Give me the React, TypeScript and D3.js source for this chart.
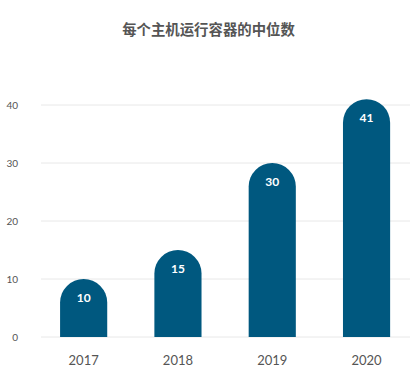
import React, { useEffect, useRef } from 'react';
import * as d3 from 'd3';

const years = ['2017', '2018', '2019', '2020'];
const medians = [10, 15, 30, 41];
const yTicks = [0, 10, 20, 30, 40];
const title = '每个主机运行容器的中位数';

const width = 412;
const height = 386;

export default function App() {
  const svgRef = useRef<SVGSVGElement>(null);

  useEffect(() => {
    if (!svgRef.current) return;
    const svg = d3.select(svgRef.current);
    svg.selectAll('*').remove();

    const x = d3.scaleBand<string>()
      .domain(years)
      .range([36.5, 413.7])
      .paddingInner(0.5)
      .paddingOuter(0.25);

    const y = d3.scaleLinear()
      .domain([0, 40])
      .range([337, 105]);

    // Title
    svg.append('text')
      .attr('x', 208.5)
      .attr('y', 35)
      .attr('text-anchor', 'middle')
      .attr('font-family', '"Noto Sans CJK SC", sans-serif')
      .attr('font-weight', 'bold')
      .attr('font-size', 14.4)
      .attr('fill', '#555')
      .text(title);

    // Gridlines
    svg.append('g')
      .selectAll('line')
      .data(yTicks)
      .enter()
      .append('line')
      .attr('x1', 41)
      .attr('x2', 410)
      .attr('y1', d => y(d))
      .attr('y2', d => y(d))
      .attr('stroke', '#e8e8e8')
      .attr('stroke-width', 1);

    // Y tick labels
    svg.append('g')
      .selectAll('text')
      .data(yTicks)
      .enter()
      .append('text')
      .attr('x', 18)
      .attr('y', d => y(d))
      .attr('dy', '0.35em')
      .attr('text-anchor', 'end')
      .attr('font-family', 'Lato, sans-serif')
      .attr('font-size', 10)
      .attr('fill', '#555')
      .text(d => d);

    // Bars with rounded tops
    const bw = x.bandwidth();
    const r = bw / 2;
    const barPath = (yr: string, v: number) => {
      const x0 = x(yr) ?? 0;
      const top = y(v);
      const bottom = y(0);
      return `M${x0},${bottom}L${x0},${top + r}A${r},${r} 0 0 1 ${x0 + bw},${top + r}L${x0 + bw},${bottom}Z`;
    };

    const data = years.map((yr, i) => ({ yr, v: medians[i] }));

    svg.append('g')
      .selectAll('path')
      .data(data)
      .enter()
      .append('path')
      .attr('d', d => barPath(d.yr, d.v))
      .attr('fill', '#00587f');

    // Value labels
    svg.append('g')
      .selectAll('text')
      .data(data)
      .enter()
      .append('text')
      .attr('x', d => (x(d.yr) ?? 0) + bw / 2)
      .attr('y', d => y(d.v) + 19)
      .attr('dy', '0.35em')
      .attr('text-anchor', 'middle')
      .attr('font-family', 'Lato, sans-serif')
      .attr('font-weight', 'bold')
      .attr('font-size', 12)
      .attr('fill', '#fff')
      .text(d => d.v);

    // X labels
    svg.append('g')
      .selectAll('text')
      .data(years)
      .enter()
      .append('text')
      .attr('x', d => (x(d) ?? 0) + bw / 2)
      .attr('y', 360)
      .attr('dy', '0.35em')
      .attr('text-anchor', 'middle')
      .attr('font-family', 'Lato, sans-serif')
      .attr('font-size', 13)
      .attr('fill', '#555')
      .text(d => d);
  }, []);

  return (
    <svg
      ref={svgRef}
      width={width}
      height={height}
      style={{ position: 'absolute', left: 0, top: 0, background: '#fff' }}
    />
  );
}
